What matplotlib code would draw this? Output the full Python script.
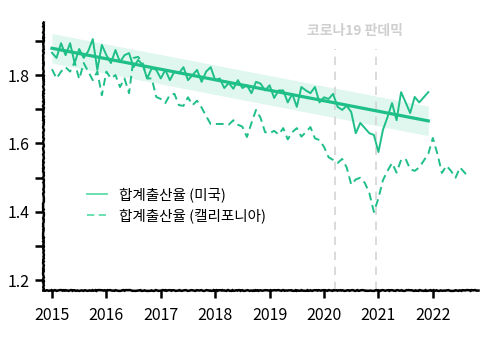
import numpy as np
import matplotlib.pyplot as plt
from matplotlib.lines import Line2D

plt.rcParams['font.family'] = ['Noto Sans CJK KR', 'DejaVu Sans']

# monthly total fertility rate
us_start = 2015.0
us_tfr = [
    1.865, 1.850, 1.893, 1.858, 1.893, 1.835, 1.876, 1.850, 1.870, 1.905, 1.815, 1.888,  # 2015
    1.858, 1.835, 1.873, 1.838, 1.858, 1.864, 1.823, 1.844, 1.830, 1.790, 1.820, 1.815,  # 2016
    1.790, 1.815, 1.785, 1.810, 1.805, 1.823, 1.785, 1.800, 1.815, 1.780, 1.810, 1.823,  # 2017
    1.785, 1.790, 1.762, 1.777, 1.760, 1.785, 1.762, 1.770, 1.747, 1.780, 1.775, 1.755,  # 2018
    1.770, 1.733, 1.755, 1.755, 1.720, 1.745, 1.707, 1.765, 1.755, 1.747, 1.765, 1.720,  # 2019
    1.735, 1.730, 1.745, 1.707, 1.698, 1.710, 1.692, 1.630, 1.660, 1.645, 1.630, 1.625,  # 2020
    1.575, 1.640, 1.677, 1.718, 1.668, 1.750, 1.720, 1.689, 1.736, 1.720, 1.735, 1.750,  # 2021
]
ca_tfr = [
    1.817, 1.790, 1.810, 1.823, 1.810, 1.838, 1.788, 1.835, 1.810, 1.785, 1.810, 1.741,  # 2015
    1.810, 1.790, 1.800, 1.765, 1.790, 1.747, 1.850, 1.853, 1.835, 1.790, 1.790, 1.736,  # 2016
    1.730, 1.718, 1.742, 1.745, 1.712, 1.710, 1.735, 1.712, 1.725, 1.705, 1.680, 1.657,  # 2017
    1.657, 1.657, 1.657, 1.655, 1.668, 1.655, 1.649, 1.619, 1.660, 1.698, 1.675, 1.633,  # 2018
    1.630, 1.637, 1.626, 1.645, 1.612, 1.633, 1.645, 1.620, 1.633, 1.648, 1.615, 1.610,  # 2019
    1.590, 1.560, 1.552, 1.543, 1.555, 1.530, 1.480, 1.495, 1.500, 1.485, 1.455, 1.400,  # 2020
    1.440, 1.493, 1.520, 1.543, 1.515, 1.552, 1.555, 1.525, 1.520, 1.530, 1.550, 1.570,  # 2021
    1.616, 1.570, 1.514, 1.535, 1.520, 1.500, 1.530, 1.515, 1.500,                      # 2022
]
band_halfwidth = 0.043
pandemic_marks = [2020.2, 2020.95]
pandemic_label = "코로나19 판데믹"
legend_labels = ["합계출산율 (미국)", "합계출산율 (캘리포니아)"]
years = list(range(2015, 2023))

green = "#1fbf88"
light_green = "#5fdca9"

us_x = us_start + np.arange(len(us_tfr)) / 12
ca_x = us_start + np.arange(len(ca_tfr)) / 12

# linear trend of the US series
slope, intercept = np.polyfit(us_x, us_tfr, 1)
trend = slope * us_x + intercept

fig = plt.figure(figsize=(5, 3.38), dpi=100)
ax = fig.add_axes([0.086, 0.142, 0.87, 0.793])

ax.fill_between(us_x, trend - band_halfwidth, trend + band_halfwidth,
                color="#dff7ee", lw=0, zorder=1)
ax.plot(us_x, us_tfr, color=green, lw=1.4, zorder=3)
ax.plot(us_x, trend, color=green, lw=2.3, zorder=4)
ax.plot(ca_x, ca_tfr, color=green, lw=1.4, ls=(0, (4, 2.5)), zorder=3)

for xm in pandemic_marks:
    ax.axvline(xm, color="#d4d4d4", lw=1.2, ls=(0, (5, 4)), ymax=0.9, zorder=2)
ax.text(np.mean(pandemic_marks), 1.93, pandemic_label, ha="center", va="center",
        color="#cfcfcf", fontsize=10, fontweight="bold")

handles = [Line2D([], [], color=light_green, lw=1.3),
           Line2D([], [], color=light_green, lw=1.3, ls=(0, (4, 2.5)))]
ax.legend(handles, legend_labels, loc="lower left", bbox_to_anchor=(0.07, 0.2),
          frameon=False, fontsize=10.5, handlelength=1.4, handletextpad=0.8,
          labelspacing=0.45)

ax.set_xlim(2014.835, 2022.83)
ax.set_ylim(1.172, 1.955)
ax.set_xticks(years)
ax.set_yticks([1.2, 1.4, 1.6, 1.8])
ax.set_yticks([1.3, 1.5, 1.7, 1.9], minor=True)
ax.set_yticklabels(["1.2", "1.4", "1.6", "1.8"])
ax.tick_params(axis="both", which="major", direction="out", length=6, width=1.8,
               labelsize=11.5)
ax.tick_params(axis="x", which="major", pad=6)
ax.tick_params(axis="y", which="minor", direction="out", length=6, width=1.8)

for side in ["top", "right"]:
    ax.spines[side].set_visible(False)
for side in ["left", "bottom"]:
    ax.spines[side].set_linewidth(1.8)
    ax.spines[side].set_sketch_params(scale=0.4, length=4, randomness=6)

fig.savefig("out.png", dpi=100)
